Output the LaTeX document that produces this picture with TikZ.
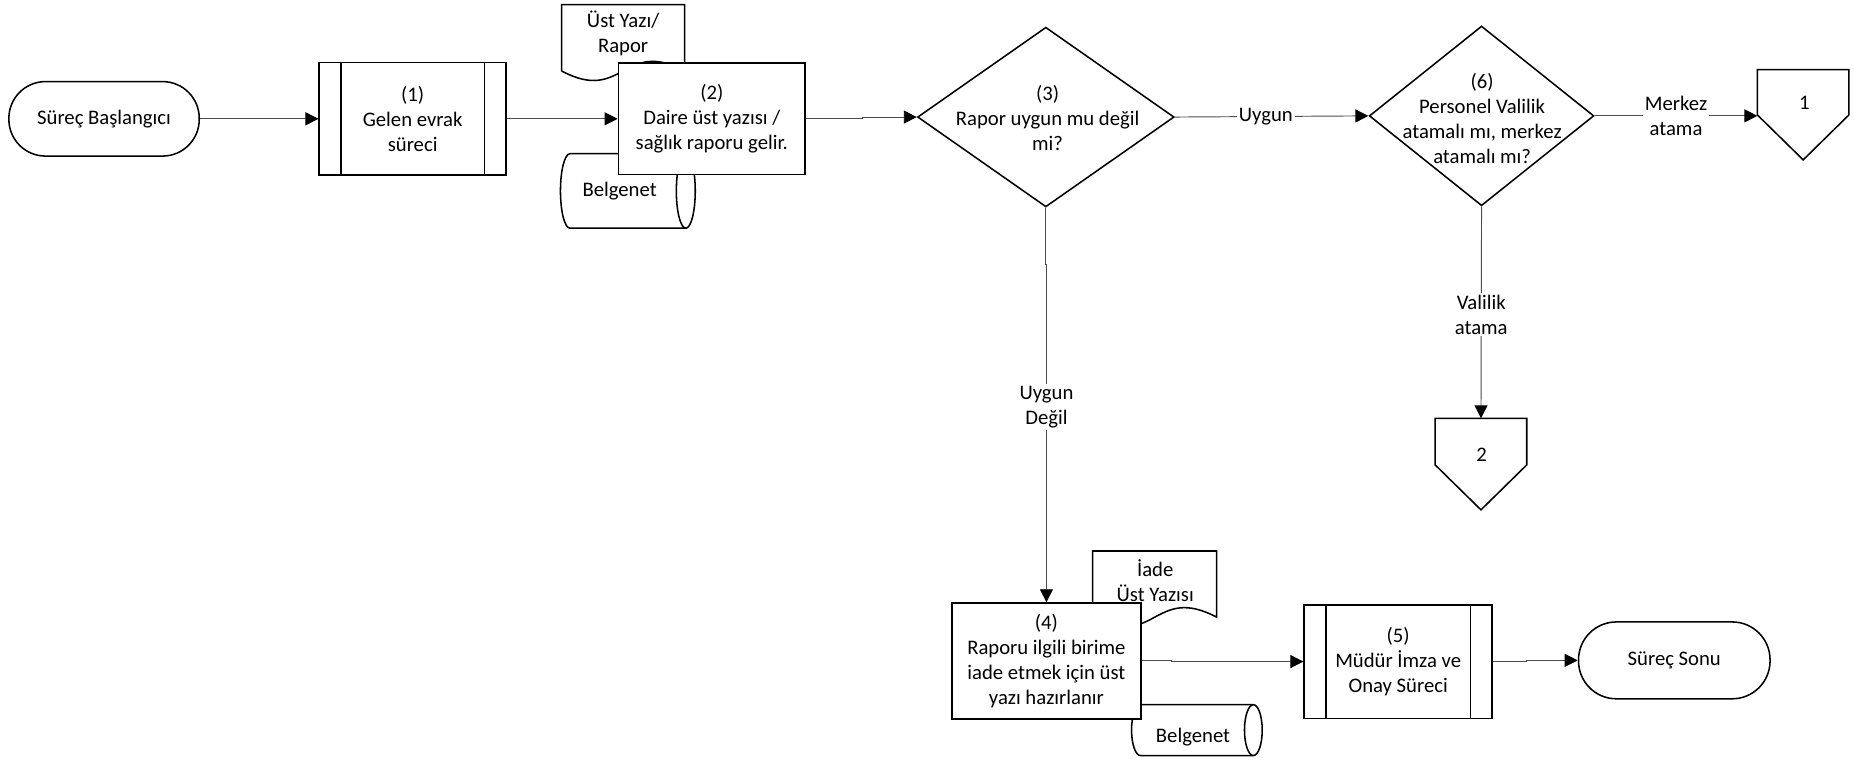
\documentclass[tikz,border=0pt]{standalone}
\usepackage{fontspec}
\setmainfont{Carlito}
\usetikzlibrary{shapes.geometric,arrows.meta}
\begin{document}
\begin{tikzpicture}[x=1pt,y=-1pt,
  font=\fontsize{17.5}{21.2}\selectfont,
  shp/.style={draw=black, line width=1.3pt, fill=white, inner sep=0pt, align=center},
  term/.style={shp, rectangle, rounded corners=31pt, minimum width=161pt, minimum height=63pt},
  proc/.style={shp, rectangle, minimum width=158pt, minimum height=95pt},
  dec/.style={shp, diamond},
  outline/.style={draw=black, line width=1.3pt, fill=white},
  txt/.style={inner sep=0pt, align=center},
  hold/.style={draw=none, inner sep=0pt, minimum width=77pt},
  conn/.style={draw=black!70, line width=0.8pt, -{Triangle[length=11pt,width=11pt,fill=black,color=black]}},
  lbl/.style={fill=white, inner sep=1.5pt, align=center}
]
\useasboundingbox (0,0) rectangle (1568,650);

% ---- documents and storage behind box (2)
\draw[outline] (475,4) -- (579,4) -- (579,60) .. controls (527,32) and (527,88) .. (475,60) -- cycle;
\node[txt] (doc1) at (527,28) {Üst Yazı/\\Rapor};
\draw[outline] (482,130) -- (580,130) arc[start angle=90,end angle=-90,x radius=8pt,y radius=31.5pt]
  -- (482,193) arc[start angle=270,end angle=90,x radius=8pt,y radius=31.5pt] -- cycle;
\draw[line width=1.3pt] (580,130) arc[start angle=90,end angle=270,x radius=8pt,y radius=31.5pt];
\node[txt] (db1) at (524,162) {Belgenet};

% ---- documents and storage behind box (4)
\draw[outline] (924,466) -- (1029,466) -- (1029,522) .. controls (976.5,494) and (976.5,550) .. (924,522) -- cycle;
\node[txt] (doc2) at (977,491) {İade\\Üst Yazısı};
\draw[outline] (964.5,596) -- (1060,596) arc[start angle=90,end angle=-90,x radius=7.5pt,y radius=21.5pt]
  -- (964.5,639) arc[start angle=270,end angle=90,x radius=7.5pt,y radius=21.5pt] -- cycle;
\draw[line width=1.3pt] (1060,596) arc[start angle=90,end angle=270,x radius=7.5pt,y radius=21.5pt];
\node[txt] (db2) at (1009,623) {Belgenet};

% ---- main nodes
\node[term] (start) at (88,100.5) {Süreç Başlangıcı};
\node[proc] (p1) at (349,100.5) {(1)\\Gelen evrak\\süreci};
\draw[line width=1.3pt] ([xshift=19pt]p1.north west) -- ([xshift=19pt]p1.south west);
\draw[line width=1.3pt] ([xshift=-19pt]p1.north east) -- ([xshift=-19pt]p1.south east);
\node[proc, minimum height=94pt] (p2) at (602,100.5) {(2)\\Daire üst yazısı /\\sağlık raporu gelir.};

\node[dec, minimum width=217pt, minimum height=152pt] (d3) at (884.5,99) {};
\node[txt] (d3t) at (886,100) {(3)\\Rapor uygun mu değil\\mi?};
\node[dec, minimum width=190pt, minimum height=152pt] (d6) at (1253,98) {};
\node[txt] (d6t) at (1253.5,100) {(6)\\Personel Valilik\\atamalı mı, merkez\\atamalı mı?};

% off-page connectors
\node[hold, minimum height=38pt] (c1) at (1525,78) {};
\draw[outline] (c1.north west) -- (c1.north east) -- (c1.south east) -- ([yshift=-38pt]c1.south) -- (c1.south west) -- cycle;
\node[txt] (c1t) at (1526,87) {1};
\node[hold, minimum height=39pt] (c2) at (1252.5,373.5) {};
\draw[outline] (c2.north west) -- (c2.north east) -- (c2.south east) -- ([yshift=-38pt]c2.south) -- (c2.south west) -- cycle;
\node[txt] (c2t) at (1253,385) {2};

\node[proc, minimum width=160pt, minimum height=98pt] (p4) at (885,559) {(4)\\Raporu ilgili birime\\iade etmek için üst\\yazı hazırlanır};
\node[proc, minimum width=159pt, minimum height=96pt] (p5) at (1182.5,559.5) {(5)\\Müdür İmza ve\\Onay Süreci};
\draw[line width=1.3pt] ([xshift=19pt]p5.north west) -- ([xshift=19pt]p5.south west);
\draw[line width=1.3pt] ([xshift=-19pt]p5.north east) -- ([xshift=-19pt]p5.south east);
\node[term, minimum width=162pt, minimum height=65pt, rounded corners=32pt] (end) at (1416,558.5) {Süreç Sonu};

% ---- connectors
\draw[conn] (start.east) -- (p1.west);
\draw[conn] (p1.east) -- (p2.west);
\draw[conn] (p2.east) -- ++(48,0) |- (d3.west);
\draw[conn] (d3.east) -- node[lbl, pos=0.47] (l1) {Uygun} (d6.west);
\draw[conn] (d6.east) -- node[lbl, pos=0.5] (l2) {Merkez\\atama} (d6.east -| c1.west);
\draw[conn] (d6.south) -- node[lbl, pos=0.51] (l3) {Valilik\\atama} (c2.north);
\draw[conn] (d3.south) -- ++(0,48) -| node[lbl, pos=0.711] (l4) {Uygun\\Değil} (p4.north);
\draw[conn] (p4.east) -- ++(25,0) |- (p5.west);
\draw[conn] (p5.east) -- ++(28,0) |- (end.west);
\end{tikzpicture}
\end{document}
